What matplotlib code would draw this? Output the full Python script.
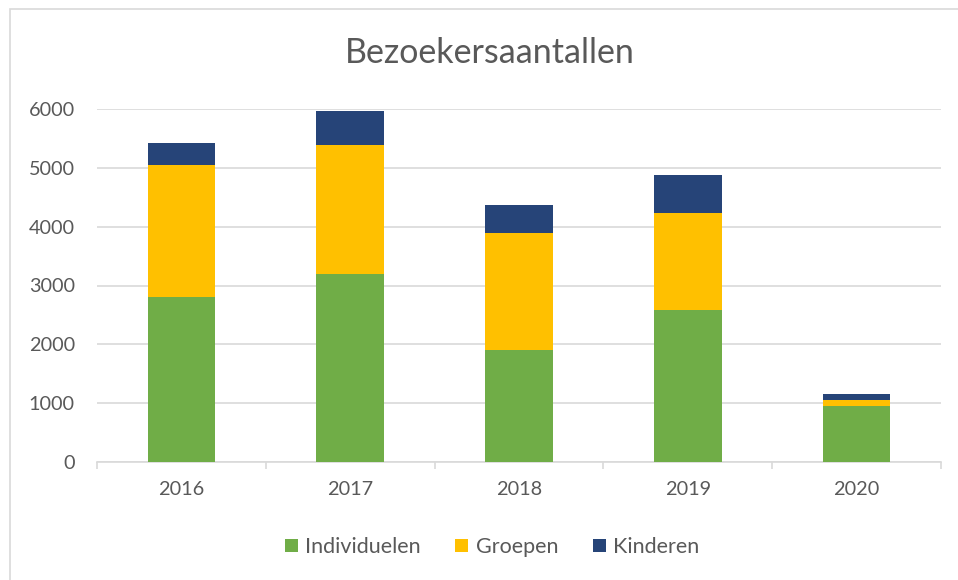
import matplotlib
matplotlib.use("Agg")
import matplotlib.pyplot as plt
from matplotlib.patches import Rectangle
import numpy as np

years = ["2016", "2017", "2018", "2019", "2020"]
individuelen = [2800, 3200, 1900, 2590, 950]
groepen = [2240, 2180, 2000, 1645, 100]
kinderen = [380, 590, 475, 635, 105]
yticks = [0, 1000, 2000, 3000, 4000, 5000, 6000]

plt.rcParams['font.family'] = ['Lato', 'DejaVu Sans']
txt = '#595959'

W, H = 958, 580
fig = plt.figure(figsize=(W/100, H/100), dpi=100)
fig.patch.set_facecolor('white')

# outer chart border (extends past right and bottom edges)
fig.patches.append(Rectangle((10/W, -0.2), 1.2, 1.2 - 9/H, transform=fig.transFigure,
                             fill=False, edgecolor='#d9d9d9', linewidth=1.2))

ax = fig.add_axes([97/W, 1 - 462/H, (941-97)/W, (462-109)/H])
x = np.arange(len(years))
w = 0.40
ind = np.array(individuelen)
gr = np.array(groepen)
ki = np.array(kinderen)
ax.bar(x, ind, w, color='#70ad47', label='Individuelen', zorder=3)
ax.bar(x, gr, w, bottom=ind, color='#ffc000', label='Groepen', zorder=3)
ax.bar(x, ki, w, bottom=ind+gr, color='#264478', label='Kinderen', zorder=3)

ax.set_xlim(-0.5, len(years) - 0.5)
ax.set_ylim(0, 6000)
ax.set_yticks(yticks)
ax.set_yticklabels([str(v) for v in yticks])
ax.yaxis.grid(True, color='#d9d9d9', linewidth=1.2, zorder=0)
ax.tick_params(axis='y', length=0, pad=16, labelsize=14.3, labelcolor=txt)
ax.set_xticks(x)
ax.set_xticklabels(years)
ax.tick_params(axis='x', length=0, pad=14, labelsize=14.3, labelcolor=txt)
# category separator ticks
ax.set_xticks(np.arange(-0.5, len(years)), minor=True)
ax.tick_params(axis='x', which='minor', length=5, color='#d9d9d9', width=1.2)
for s in ['top', 'right', 'left']:
    ax.spines[s].set_visible(False)
ax.spines['bottom'].set_color('#d9d9d9')
ax.spines['bottom'].set_linewidth(1.2)

fig.text(490/W, 1 - 53/H, 'Bezoekersaantallen', ha='center', va='center',
         fontsize=24.5, color=txt)

leg = fig.legend(loc='center', bbox_to_anchor=(492/W, 1 - 547/H), ncol=3,
                 frameon=False, fontsize=15.5, handlelength=0.6, handleheight=0.6,
                 handletextpad=0.35, columnspacing=1.6)
for t in leg.get_texts():
    t.set_color(txt)

fig.savefig('out.png', dpi=100, facecolor='white')
